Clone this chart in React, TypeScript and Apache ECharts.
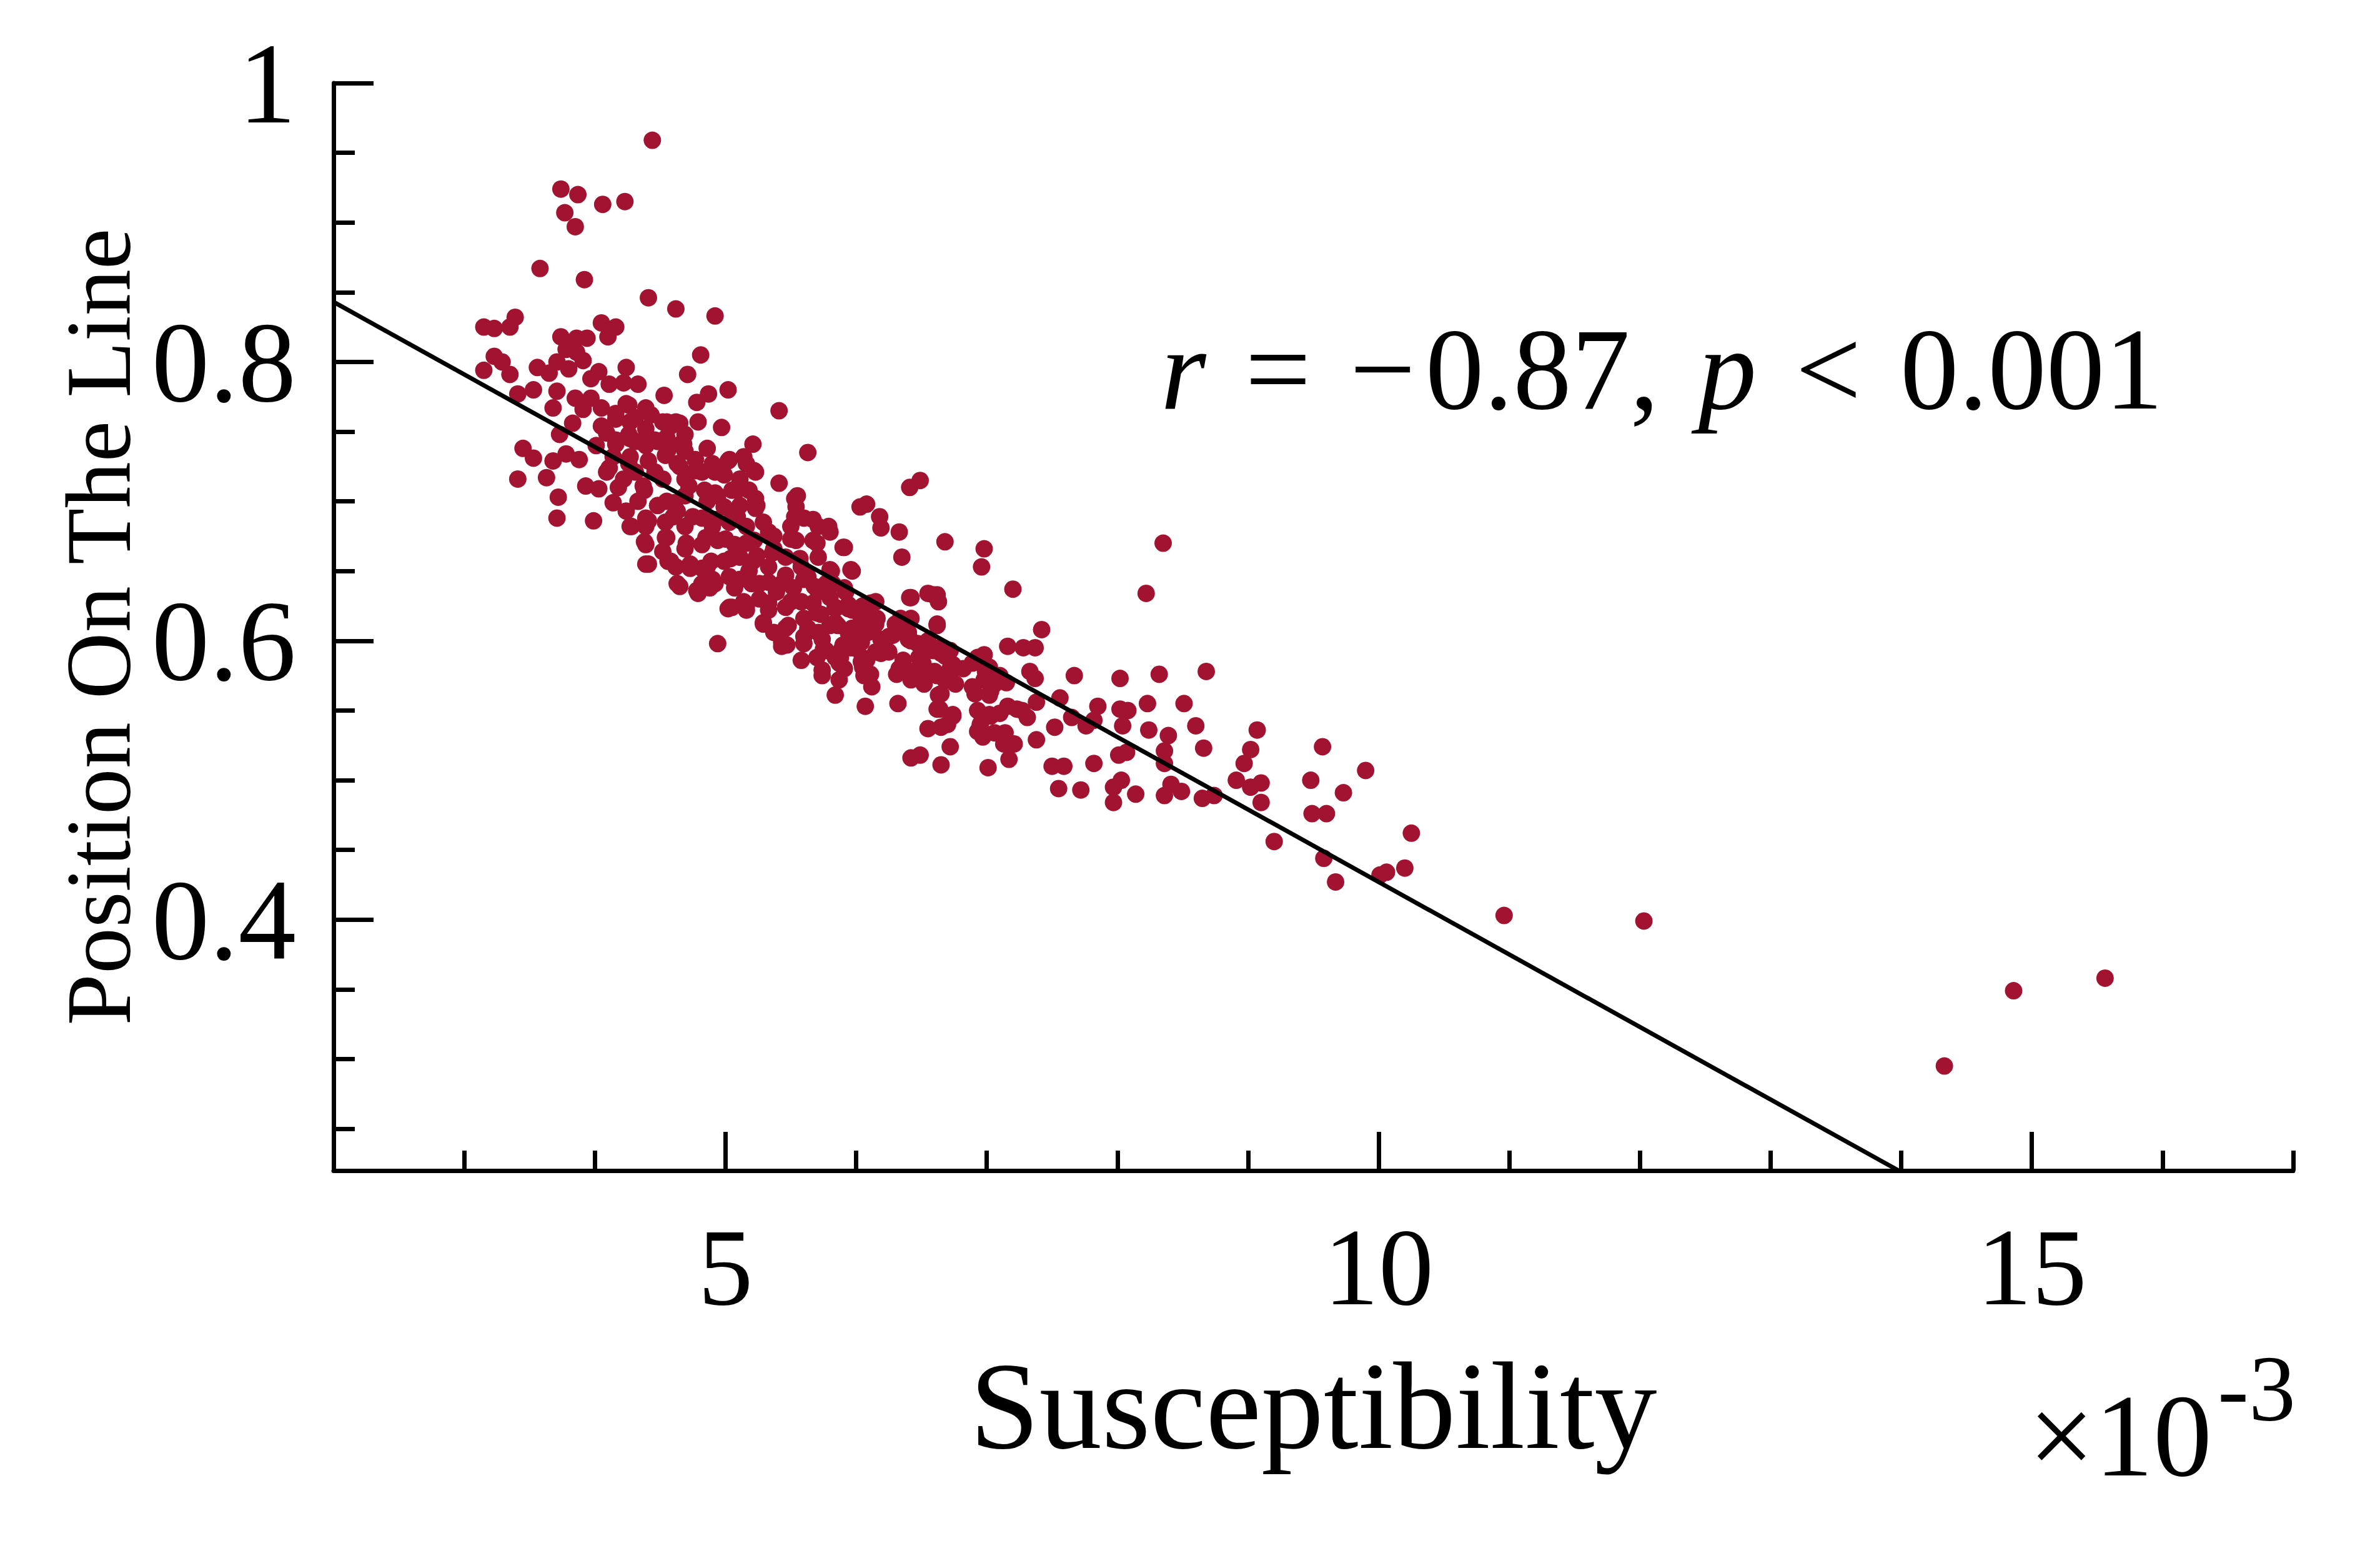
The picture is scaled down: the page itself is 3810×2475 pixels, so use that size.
import React, { useEffect, useRef } from "react";
import * as echarts from "echarts";

// ---------- data (Susceptibility ×10^-3, Position On The Line) ----------
const outliersHigh: number[][] = [
  [4.44, 0.959], [3.74, 0.924], [3.87, 0.92], [4.06, 0.913], [4.23, 0.915], [3.77, 0.907], [3.85, 0.897],
  [3.58, 0.867], [3.92, 0.859], [4.41, 0.846], [4.62, 0.838], [4.92, 0.833],
];

const clusterUpper: number[][] = [
  [3.15, 0.825], [3.23, 0.824], [3.35, 0.825], [3.39, 0.832], [3.74, 0.818], [3.86, 0.817], [3.94, 0.817],
  [4.05, 0.828], [4.16, 0.825], [4.1, 0.818], [4.81, 0.805], [3.23, 0.804], [3.29, 0.8], [3.15, 0.794],
  [3.35, 0.791], [3.56, 0.796], [3.65, 0.792], [3.71, 0.8], [3.78, 0.809], [3.8, 0.795], [3.91, 0.801],
  [3.86, 0.807], [4.03, 0.793], [3.97, 0.788], [4.11, 0.784], [4.24, 0.796], [4.22, 0.785], [4.33, 0.784],
  [4.71, 0.791], [3.41, 0.777], [3.53, 0.78], [3.71, 0.779], [3.68, 0.767], [3.85, 0.774], [3.97, 0.774],
  [3.91, 0.766], [3.83, 0.756], [4.05, 0.767], [4.24, 0.77], [4.39, 0.767], [4.53, 0.776], [4.78, 0.771],
  [4.87, 0.777], [5.02, 0.78], [5.41, 0.765], [4.79, 0.757], [4.97, 0.753], [4.05, 0.754], [4.16, 0.759],
  [4.27, 0.757], [4.39, 0.752], [4.52, 0.757], [4.62, 0.757], [3.73, 0.748], [3.45, 0.738], [4.01, 0.74],
  [4.27, 0.745], [4.48, 0.743], [4.67, 0.742], [4.86, 0.738], [5.21, 0.741], [5.63, 0.735],
  [4.16, 0.763], [4.31, 0.76], [4.43, 0.762], [4.58, 0.754], [4.69, 0.748], [4.26, 0.748], [4.39, 0.74],
  [4.56, 0.737], [4.16, 0.741], [4.09, 0.749],
];

const clusterLeft: number[][] = [
  [3.53, 0.731], [3.41, 0.716], [3.63, 0.717], [3.68, 0.729], [3.72, 0.703], [3.71, 0.688], [3.99, 0.686],
  [3.93, 0.711], [4.03, 0.709], [3.88, 0.73], [3.78, 0.734], [4.14, 0.699], [4.18, 0.71], [4.11, 0.724],
  [4.27, 0.732], [4.28, 0.682], [4.39, 0.682], [4.39, 0.669], [4.41, 0.655], [4.54, 0.674], [4.61, 0.699],
  [4.62, 0.653], [4.65, 0.639], [4.82, 0.652], [4.79, 0.634], [4.88, 0.638], [5.41, 0.713], [5.55, 0.704],
  [5.54, 0.696], [6.03, 0.696], [5.9, 0.667], [5.97, 0.65], [5.05, 0.624], [5.29, 0.613], [4.94, 0.598],
  [5.47, 0.597], [5.58, 0.586], [5.74, 0.575], [5.84, 0.561], [6.07, 0.553], [6.05, 0.581], [5.81, 0.65],
];

const clusterCore: number[][] = [
  [4.16, 0.744], [4.31, 0.743], [4.46, 0.744], [4.58, 0.741], [4.69, 0.736], [4.14, 0.732], [4.26, 0.727],
  [4.41, 0.729], [4.54, 0.733], [4.65, 0.725], [4.77, 0.73], [4.09, 0.721], [4.22, 0.716], [4.37, 0.711],
  [4.52, 0.716], [4.69, 0.716], [4.82, 0.721], [4.9, 0.727], [5.03, 0.73], [5.14, 0.732], [5.22, 0.722],
  [5.11, 0.716], [4.99, 0.719], [4.84, 0.708], [4.94, 0.704], [5.05, 0.708], [5.18, 0.708], [5.24, 0.697],
  [5.11, 0.697], [4.99, 0.696], [4.86, 0.7], [4.69, 0.704], [4.63, 0.693], [4.48, 0.697], [4.33, 0.7],
  [4.24, 0.693], [4.39, 0.688], [4.54, 0.685], [4.69, 0.682], [4.82, 0.688], [4.9, 0.682], [5.03, 0.685],
  [5.16, 0.682], [5.29, 0.685], [5.37, 0.675], [5.22, 0.672], [5.07, 0.669], [4.94, 0.672], [4.82, 0.669],
  [4.69, 0.666], [4.52, 0.664], [4.58, 0.657], [4.73, 0.655], [4.86, 0.653], [4.99, 0.657], [5.11, 0.66],
  [5.24, 0.661], [5.37, 0.666], [5.5, 0.682], [5.6, 0.688], [5.71, 0.682], [5.8, 0.678], [5.67, 0.672],
  [5.54, 0.672], [5.46, 0.66], [5.33, 0.653], [5.18, 0.65], [5.03, 0.646], [4.9, 0.644], [4.82, 0.641],
  [5.07, 0.638], [5.2, 0.641], [5.33, 0.642], [5.46, 0.647], [5.58, 0.653], [5.71, 0.66], [5.63, 0.646],
  [5.52, 0.638], [5.39, 0.635], [5.26, 0.63], [5.14, 0.628], [5.03, 0.624], [5.16, 0.622], [5.33, 0.622],
  [5.46, 0.624], [5.58, 0.628], [5.71, 0.635], [5.82, 0.641], [5.92, 0.635], [6.05, 0.625], [5.97, 0.622],
  [5.84, 0.624], [5.73, 0.619], [5.6, 0.616], [5.48, 0.611], [5.37, 0.606], [5.43, 0.599], [5.6, 0.603],
  [5.71, 0.606], [5.86, 0.611], [6.01, 0.61], [6.09, 0.606], [5.9, 0.597], [5.75, 0.594], [5.88, 0.588],
  [6.01, 0.594],
];

const clusterDenseA: number[][] = [
  [4.26, 0.769], [4.39, 0.765], [4.55, 0.757], [4.65, 0.756], [4.27, 0.746], [4.41, 0.743], [4.55, 0.746],
  [4.68, 0.741], [4.31, 0.721], [4.46, 0.721], [4.63, 0.727], [4.77, 0.722], [4.92, 0.721], [5.02, 0.729],
  [5.16, 0.727], [5.23, 0.721], [4.38, 0.708], [4.55, 0.7], [4.72, 0.711], [4.92, 0.706], [5.09, 0.708],
  [5.23, 0.702], [5.53, 0.702], [4.27, 0.682], [4.41, 0.686], [4.6, 0.689], [4.75, 0.689], [4.92, 0.687],
  [5.09, 0.689], [5.23, 0.695], [5.53, 0.689], [5.67, 0.687], [5.79, 0.682], [4.38, 0.671], [4.55, 0.674],
  [4.7, 0.67], [4.85, 0.674], [5.0, 0.673], [5.16, 0.67], [5.33, 0.678], [5.5, 0.673], [5.7, 0.67],
  [4.39, 0.655], [4.56, 0.657], [4.73, 0.652], [4.89, 0.657], [5.04, 0.659], [5.21, 0.657], [5.36, 0.663],
  [5.57, 0.659], [5.8, 0.651], [5.96, 0.651], [4.63, 0.641], [4.78, 0.636], [4.92, 0.641], [5.11, 0.644],
  [5.26, 0.641], [5.43, 0.641], [5.6, 0.644], [5.77, 0.641], [5.91, 0.638], [6.11, 0.627], [5.02, 0.623],
  [5.16, 0.625], [5.33, 0.627], [5.5, 0.628], [5.67, 0.627], [5.84, 0.623], [6.01, 0.622], [6.16, 0.616],
  [6.42, 0.631], [6.59, 0.633], [5.29, 0.612], [5.46, 0.609], [5.63, 0.609], [5.8, 0.611], [5.97, 0.609],
  [6.14, 0.611], [6.3, 0.612], [6.42, 0.616], [6.62, 0.611], [5.43, 0.596], [5.6, 0.598], [5.77, 0.593],
  [5.92, 0.596], [6.08, 0.587], [6.25, 0.592], [6.42, 0.6], [6.59, 0.593], [6.72, 0.593], [5.74, 0.579],
  [5.91, 0.58], [6.11, 0.576], [6.33, 0.58], [6.54, 0.579], [6.72, 0.577], [6.82, 0.58],
];

const clusterDenseB: number[][] = [
  [5.68, 0.639], [5.8, 0.631], [5.94, 0.626], [6.06, 0.62], [5.7, 0.62], [5.84, 0.613], [5.97, 0.607],
  [6.13, 0.61], [5.74, 0.601], [5.89, 0.594], [6.04, 0.599], [6.19, 0.601], [5.7, 0.588], [5.84, 0.588],
  [6.04, 0.585], [6.19, 0.591], [6.28, 0.604], [6.4, 0.601], [6.52, 0.597], [6.65, 0.591], [6.74, 0.583],
  [6.36, 0.586], [6.48, 0.588], [6.6, 0.578], [6.72, 0.572], [6.52, 0.57], [6.38, 0.578], [6.93, 0.588],
  [6.99, 0.578], [7.1, 0.572], [6.89, 0.567], [7.03, 0.564], [6.65, 0.562], [6.62, 0.551], [6.74, 0.546],
  [6.65, 0.538], [6.93, 0.55], [7.03, 0.546], [7.16, 0.553], [7.27, 0.55], [6.93, 0.535], [7.06, 0.534],
  [7.13, 0.526],
];

const clusterMid: number[][] = [
  [6.49, 0.715], [6.41, 0.71], [6.08, 0.698], [6.18, 0.689], [6.19, 0.681], [6.33, 0.678], [5.91, 0.667],
  [6.68, 0.671], [6.98, 0.666], [6.96, 0.653], [6.35, 0.66], [7.2, 0.637], [8.35, 0.67], [8.22, 0.634],
  [6.41, 0.631], [6.55, 0.634], [6.62, 0.633], [6.63, 0.628], [6.15, 0.628], [7.42, 0.608], [7.16, 0.596],
  [7.28, 0.595], [7.37, 0.595], [7.33, 0.578], [7.37, 0.573], [6.08, 0.586], [6.06, 0.575], [6.12, 0.567],
  [6.31, 0.576], [6.43, 0.578], [6.32, 0.555], [6.52, 0.569], [6.63, 0.561], [6.64, 0.551], [6.74, 0.547],
  [6.7, 0.54], [6.55, 0.537], [6.72, 0.524], [6.42, 0.516], [6.49, 0.518], [6.65, 0.511],
  [5.94, 0.623], [6.04, 0.616], [5.94, 0.606], [6.04, 0.603], [6.15, 0.612], [5.96, 0.595], [6.15, 0.592],
  [6.25, 0.603], [6.34, 0.616], [6.4, 0.606], [6.47, 0.598], [6.55, 0.6], [6.64, 0.595], [6.51, 0.59],
  [6.62, 0.612], [6.98, 0.59], [6.89, 0.584], [7.02, 0.581], [7.1, 0.575], [6.98, 0.572], [7.06, 0.569],
  [7.15, 0.57], [6.91, 0.562], [7.02, 0.561], [6.68, 0.589], [6.72, 0.58], [6.68, 0.572], [6.76, 0.569],
  [6.62, 0.575], [6.51, 0.584], [6.38, 0.579], [6.42, 0.572], [5.87, 0.584], [5.87, 0.572],
];

const clusterLower: number[][] = [
  [6.95, 0.54], [6.97, 0.531], [7.02, 0.547], [7.1, 0.548], [7.14, 0.534], [7.21, 0.526], [7.17, 0.515],
  [7.01, 0.509], [7.23, 0.551], [7.31, 0.545], [7.38, 0.556], [7.38, 0.529], [7.52, 0.538], [7.56, 0.559],
  [7.65, 0.545], [7.67, 0.575], [7.76, 0.539], [7.85, 0.553], [7.82, 0.543], [7.5, 0.51], [7.59, 0.51],
  [7.55, 0.494], [7.72, 0.493], [7.82, 0.512], [8.02, 0.573], [8.02, 0.551], [8.08, 0.55], [8.04, 0.539],
  [8.23, 0.555], [8.24, 0.536], [8.32, 0.576], [8.39, 0.532], [8.51, 0.555], [8.6, 0.539], [8.68, 0.578],
  [8.01, 0.518], [8.07, 0.52], [8.03, 0.5], [7.97, 0.495], [8.14, 0.49], [8.36, 0.521], [8.36, 0.512],
  [8.41, 0.497], [8.49, 0.492], [8.36, 0.489], [8.66, 0.523], [9.07, 0.536], [9.02, 0.522], [8.97, 0.512],
  [8.91, 0.5], [9.02, 0.495], [9.1, 0.498], [8.65, 0.487], [8.74, 0.489], [9.1, 0.484], [7.97, 0.484],
];

const tailPoints: number[][] = [
  [9.57, 0.524], [9.9, 0.507], [9.48, 0.5], [9.73, 0.491], [9.49, 0.476], [9.6, 0.476], [9.2, 0.456],
  [10.25, 0.462], [9.58, 0.444], [9.67, 0.427], [10.01, 0.432], [10.06, 0.434], [10.2, 0.437], [10.96, 0.403],
  [12.03, 0.399], [14.33, 0.295], [14.86, 0.349], [15.56, 0.358],
];

const fitLine: number[][] = [[2, 0.843], [13.98, 0.22]];

const xMajorTicks = [5, 10, 15];
const xMinorTicks = [3, 4, 6, 7, 8, 9, 11, 12, 13, 14, 16, 17];
const yMajorTicks = [0.4, 0.6, 0.8, 1];
const yMinorTicks = [0.25, 0.3, 0.35, 0.45, 0.5, 0.55, 0.65, 0.7, 0.75, 0.85, 0.9, 0.95];

const allPoints = [
  ...outliersHigh, ...clusterUpper, ...clusterLeft, ...clusterCore, ...clusterDenseA,
  ...clusterDenseB, ...clusterMid, ...clusterLower, ...tailPoints,
];

const FONT = "Liberation Serif, Times New Roman, serif";
const DOT = "#A11330";
const SP = "\u2004";

export default function App() {
  const ref = useRef<HTMLDivElement>(null);

  useEffect(() => {
    if (!ref.current) return;
    const chart = echarts.init(ref.current, undefined, { renderer: "svg" });
    const axisLine = { show: true, lineStyle: { color: "#000", width: 7 } };
    const xBase = { type: "value", min: 2, max: 17, gridIndex: 0, position: "bottom", splitLine: { show: false } };
    const yBase = { type: "value", min: 0.22, max: 1, gridIndex: 0, position: "left", splitLine: { show: false } };
    chart.setOption({
      animation: false,
      backgroundColor: "#fff",
      grid: { left: 534, right: 139, top: 133, bottom: 601, containLabel: false },
      xAxis: [
        {
          ...xBase,
          axisLine,
          axisTick: { show: true, inside: true, length: 62, customValues: xMajorTicks, lineStyle: { color: "#000", width: 7 } },
          axisLabel: { show: true, customValues: xMajorTicks, margin: 66, fontSize: 176, fontFamily: FONT, color: "#000" },
          name: "Susceptibility",
          nameLocation: "middle",
          nameGap: 276,
          nameTextStyle: { fontSize: 200, fontFamily: FONT, color: "#000" },
        },
        {
          ...xBase,
          axisLine: { show: false },
          axisTick: { show: true, inside: true, length: 32, customValues: xMinorTicks, lineStyle: { color: "#000", width: 7 } },
          axisLabel: { show: false },
        },
      ],
      yAxis: [
        {
          ...yBase,
          axisLine,
          axisTick: { show: true, inside: true, length: 64, customValues: yMajorTicks, lineStyle: { color: "#000", width: 7 } },
          axisLabel: {
            show: true,
            customValues: yMajorTicks,
            margin: 60,
            fontSize: 185,
            fontFamily: FONT,
            color: "#000",
            formatter: (v: number) => (Math.abs(v - 1) < 1e-9 ? "1" : v.toFixed(1)),
          },
          name: "Position On The Line",
          nameLocation: "middle",
          nameRotate: 90,
          nameGap: 300,
          nameTextStyle: { fontSize: 148, fontFamily: FONT, color: "#000" },
        },
        {
          ...yBase,
          axisLine: { show: false },
          axisTick: { show: true, inside: true, length: 34, customValues: yMinorTicks, lineStyle: { color: "#000", width: 7 } },
          axisLabel: { show: false },
        },
      ],
      series: [
        {
          type: "scatter",
          xAxisIndex: 0,
          yAxisIndex: 0,
          data: allPoints,
          symbol: "circle",
          symbolSize: 28,
          itemStyle: { color: DOT, opacity: 1 },
          z: 2,
        },
        {
          type: "line",
          xAxisIndex: 0,
          yAxisIndex: 0,
          data: fitLine,
          showSymbol: false,
          symbol: "none",
          lineStyle: { color: "#000", width: 7 },
          z: 3,
        },
      ],
      graphic: [
        {
          type: "text",
          x: 1858,
          y: 590,
          style: {
            text: "{i|r}" + SP + "=" + SP + "−\u200A0.87," + SP + "{i|p}" + SP + "<" + SP + "0.001",
            fontSize: 187,
            fontFamily: FONT,
            fill: "#000",
            verticalAlign: "middle",
            align: "left",
            rich: { i: { fontStyle: "italic", fontSize: 187, fontFamily: FONT } },
          },
        },
        {
          type: "text",
          x: 3247,
          y: 2298,
          style: { text: "×10", fontSize: 188, fontFamily: FONT, fill: "#000", verticalAlign: "middle", align: "left" },
        },
        {
          type: "text",
          x: 3550,
          y: 2223,
          style: { text: "-3", fontSize: 150, fontFamily: FONT, fill: "#000", verticalAlign: "middle", align: "left" },
        },
      ],
    });
    return () => chart.dispose();
  }, []);

  return (
    <div
      ref={ref}
      style={{ position: "absolute", left: 0, top: 0, width: 3810, height: 2475, background: "#fff" }}
    />
  );
}
